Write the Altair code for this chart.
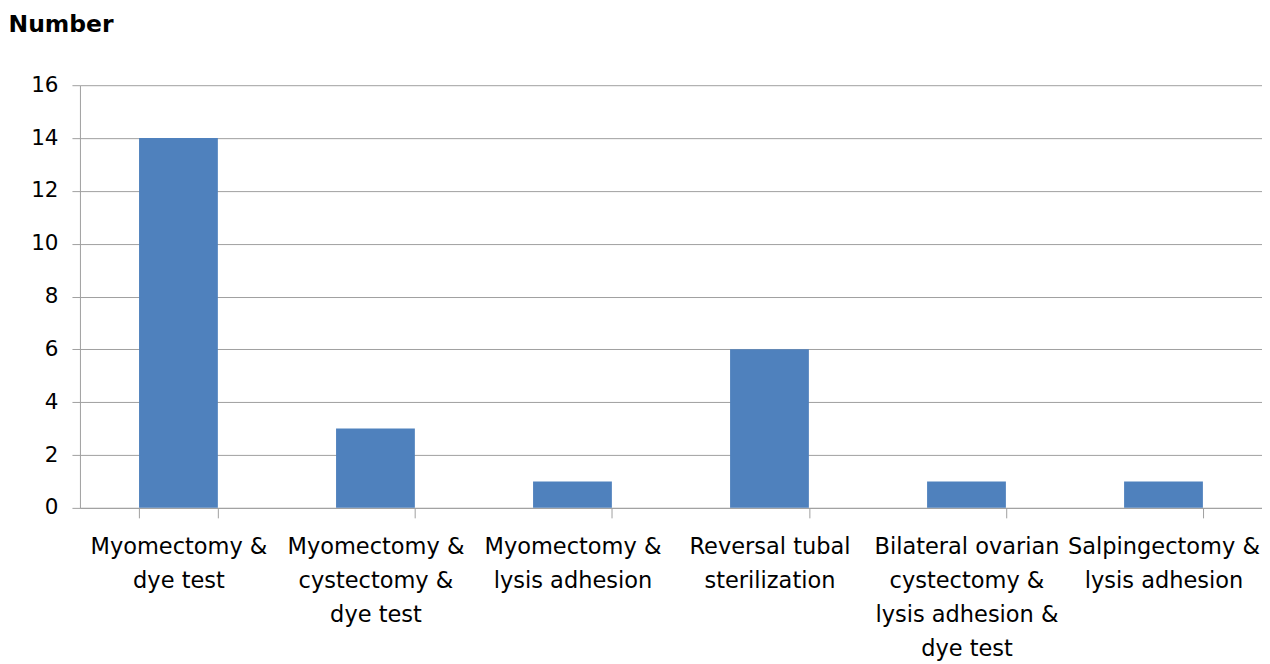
import altair as alt
import pandas as pd

categories = [
    "Myomectomy &\ndye test",
    "Myomectomy &\ncystectomy &\ndye test",
    "Myomectomy &\nlysis adhesion",
    "Reversal tubal\nsterilization",
    "Bilateral ovarian\ncystectomy &\nlysis adhesion &\ndye test",
    "Salpingectomy &\nlysis adhesion",
]
values = [14, 3, 1, 6, 1, 1]
y_ticks = [0, 2, 4, 6, 8, 10, 12, 14, 16]

df = pd.DataFrame({"procedure": categories, "number": values})

FONT = "DejaVu Sans"
GRID = "#a0a0a0"

chart = (
    alt.Chart(df)
    .mark_bar(color="#4F81BD")
    .encode(
        x=alt.X(
            "procedure:N",
            sort=categories,
            scale=alt.Scale(paddingInner=0.6, paddingOuter=0.3),
            axis=alt.Axis(
                title=None,
                labelAngle=0,
                labelExpr="datum.value ? split(datum.value, '\\n') : ''",
                labelLineHeight=34,
                labelFont=FONT,
                labelFontSize=22.5,
                labelColor="#000000",
                labelPadding=18,
                labelLimit=0,
                tickBand="extent",
                tickSize=10,
                tickColor=GRID,
                domainColor=GRID,
                grid=False,
            ),
        ),
        y=alt.Y(
            "number:Q",
            scale=alt.Scale(domain=[0, 16], nice=False),
            axis=alt.Axis(
                values=y_ticks,
                title="Number",
                titleAngle=0,
                titleAlign="left",
                titleBaseline="top",
                titleX=-72,
                titleY=-73,
                titleFont=FONT,
                titleFontSize=23.5,
                titleFontWeight="bold",
                titleColor="#000000",
                labelFont=FONT,
                labelFontSize=21.5,
                labelColor="#000000",
                labelPadding=14,
                tickSize=8,
                tickColor=GRID,
                domainColor=GRID,
                gridColor=GRID,
                grid=True,
            ),
        ),
    )
    .properties(
        width=1183,
        height=423,
        padding={"top": 4, "left": 0, "right": 0, "bottom": 0},
    )
    .configure_view(stroke=None)
)

chart.save("out.html", embed_options={"renderer": "svg", "actions": False})
